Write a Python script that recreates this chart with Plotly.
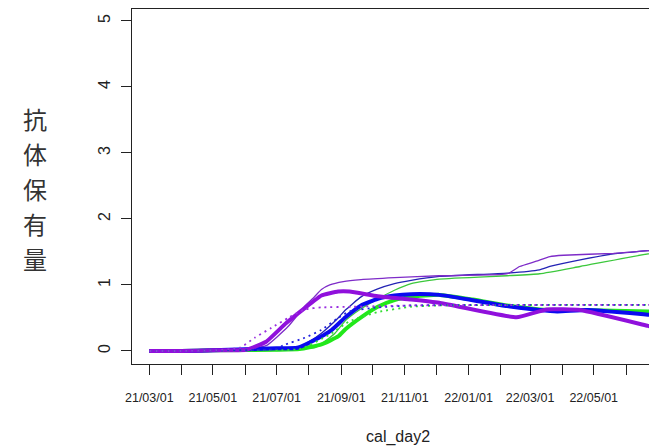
import plotly.graph_objects as go

# ---------------- data ----------------
thin_purple_x = ["2021-03-01", "2021-04-01", "2021-05-01", "2021-06-01", "2021-06-21", "2021-07-12",
                 "2021-07-28", "2021-08-05", "2021-08-13", "2021-08-21", "2021-09-03", "2021-09-20",
                 "2021-10-22", "2021-12-04", "2022-02-02", "2022-02-09", "2022-02-19", "2022-03-07",
                 "2022-03-20", "2022-04-02", "2022-05-20", "2022-06-22", "2022-06-30"]
thin_purple_y = [0, 0, 0.01, 0.03, 0.08, 0.37, 0.68, 0.80, 0.93, 1.00, 1.05, 1.08,
                 1.11, 1.14, 1.16, 1.18, 1.28, 1.36, 1.43, 1.45, 1.48, 1.52, 1.53]

thin_blue_x = ["2021-03-01", "2021-04-01", "2021-05-01", "2021-06-01", "2021-07-01", "2021-07-21",
               "2021-08-02", "2021-08-13", "2021-08-29", "2021-09-05", "2021-09-20", "2021-10-06",
               "2021-10-22", "2021-11-07", "2021-12-04", "2022-02-07", "2022-03-10", "2022-03-20",
               "2022-04-18", "2022-05-20", "2022-06-22", "2022-06-30"]
thin_blue_y = [0, 0, 0.01, 0.02, 0.03, 0.05, 0.15, 0.27, 0.50, 0.62, 0.82, 0.94,
               1.02, 1.07, 1.13, 1.18, 1.23, 1.28, 1.38, 1.47, 1.52, 1.53]

thin_green_x = ["2021-03-01", "2021-04-01", "2021-05-01", "2021-06-01", "2021-07-01", "2021-08-07",
                "2021-08-26", "2021-09-05", "2021-09-20", "2021-10-06", "2021-10-22", "2021-11-07",
                "2021-12-04", "2022-02-07", "2022-03-10", "2022-04-18", "2022-06-22", "2022-06-30"]
thin_green_y = [0, 0, 0.01, 0.02, 0.03, 0.05, 0.27, 0.46, 0.64, 0.79, 0.92, 1.02,
                1.09, 1.14, 1.17, 1.28, 1.47, 1.48]

thick_purple_x = ["2021-03-01", "2021-04-01", "2021-05-01", "2021-06-02", "2021-06-21", "2021-07-10",
                  "2021-07-28", "2021-08-13", "2021-08-29", "2021-09-09", "2021-10-06", "2021-11-07",
                  "2021-12-04", "2022-02-16", "2022-03-17", "2022-04-18", "2022-06-22", "2022-06-30"]
thick_purple_y = [0, 0, 0.01, 0.02, 0.14, 0.42, 0.65, 0.84, 0.90, 0.90, 0.83, 0.78,
                  0.73, 0.51, 0.63, 0.62, 0.38, 0.35]

thick_blue_x = ["2021-03-01", "2021-04-01", "2021-05-01", "2021-07-01", "2021-07-21", "2021-08-07",
                "2021-08-23", "2021-09-05", "2021-09-20", "2021-10-06", "2021-10-22", "2021-11-07",
                "2021-12-04", "2022-01-05", "2022-02-07", "2022-03-10", "2022-03-27", "2022-04-25",
                "2022-06-22", "2022-06-30"]
thick_blue_y = [0, 0, 0.01, 0.04, 0.05, 0.17, 0.32, 0.51, 0.69, 0.79, 0.84, 0.86,
                0.85, 0.77, 0.68, 0.62, 0.60, 0.62, 0.55, 0.54]

thick_green_x = ["2021-03-01", "2021-04-01", "2021-05-01", "2021-07-01", "2021-07-23", "2021-08-13",
                 "2021-08-29", "2021-09-05", "2021-09-20", "2021-10-06", "2021-10-22", "2021-11-07",
                 "2021-12-04", "2022-01-05", "2022-02-07", "2022-03-10", "2022-04-18", "2022-06-22",
                 "2022-06-30"]
thick_green_y = [0, 0, 0.01, 0.02, 0.03, 0.10, 0.22, 0.33, 0.51, 0.67, 0.77, 0.82,
                 0.85, 0.78, 0.69, 0.63, 0.62, 0.60, 0.60]

dot_purple_x = ["2021-03-01", "2021-04-01", "2021-05-01", "2021-05-27", "2021-06-10", "2021-06-26",
                "2021-07-12", "2021-07-28", "2021-08-13", "2021-09-12", "2021-11-07", "2022-06-30"]
dot_purple_y = [0, 0, 0.01, 0.05, 0.20, 0.35, 0.50, 0.63, 0.66, 0.67, 0.69, 0.70]

dot_blue_x = ["2021-03-01", "2021-04-01", "2021-05-01", "2021-07-01", "2021-07-08", "2021-07-28",
              "2021-08-13", "2021-08-29", "2021-09-09", "2021-10-06", "2021-11-07", "2022-06-30"]
dot_blue_y = [0, 0, 0.01, 0.03, 0.09, 0.20, 0.32, 0.50, 0.60, 0.66, 0.69, 0.70]

dot_green_x = ["2021-03-01", "2021-04-01", "2021-05-01", "2021-07-23", "2021-08-21", "2021-09-09",
               "2021-10-06", "2021-11-07", "2021-12-04", "2022-06-30"]
dot_green_y = [0, 0, 0.01, 0.03, 0.25, 0.45, 0.59, 0.67, 0.69, 0.70]

tick_vals = ["2021-03-01", "2021-04-01", "2021-05-01", "2021-06-01", "2021-07-01", "2021-08-01",
             "2021-09-01", "2021-10-01", "2021-11-01", "2021-12-01", "2022-01-01", "2022-02-01",
             "2022-03-01", "2022-04-01", "2022-05-01", "2022-06-01"]
tick_text = ["21/03/01", "", "21/05/01", "", "21/07/01", "", "21/09/01", "", "21/11/01", "",
             "22/01/01", "", "22/03/01", "", "22/05/01", ""]
y_ticks = [0, 1, 2, 3, 4, 5]

x_title = "cal_day2"
y_title = "抗体保有量"

# ---------------- figure ----------------
fig = go.Figure()

def add(x, y, color, width, dash="solid", smooth=0.45):
    fig.add_trace(go.Scatter(x=x, y=y, mode="lines",
                             line=dict(color=color, width=width, dash=dash, shape="spline", smoothing=smooth),
                             showlegend=False, hoverinfo="skip"))

add(thin_green_x, thin_green_y, "#3CC83C", 1.3)
add(thin_blue_x, thin_blue_y, "#2323B4", 1.3)
add(thin_purple_x, thin_purple_y, "#7E2CC8", 1.3)
add(thick_green_x, thick_green_y, "#22E81A", 4)
add(thick_blue_x, thick_blue_y, "#0A0AF0", 4)
add(thick_purple_x, thick_purple_y, "#9010DC", 4, smooth=0.35)
add(dot_green_x, dot_green_y, "#33DD33", 1.8, "2px,4px")
add(dot_blue_x, dot_blue_y, "#2020E0", 1.8, "2px,4px")
add(dot_purple_x, dot_purple_y, "#9A30E0", 1.8, "2px,4px")

axis_col = "#222222"
fig.update_layout(
    width=649, height=448,
    margin=dict(l=132, r=0, t=9, b=84),
    paper_bgcolor="white", plot_bgcolor="white",
    font=dict(family="Liberation Sans, Arial, sans-serif", color=axis_col),
    xaxis=dict(
        type="date", range=["2021-02-12 10:00", "2022-06-23"],
        tickvals=tick_vals, ticktext=tick_text,
        ticks="outside", ticklen=10, tickwidth=1.2, tickcolor=axis_col,
        showline=True, linecolor=axis_col, linewidth=1.4, mirror=True,
        showgrid=False, zeroline=False,
        tickfont=dict(size=12.5, color=axis_col), ticklabelstandoff=12,
    ),
    yaxis=dict(
        range=[-0.197, 5.18], tickvals=y_ticks,
        ticks="outside", ticklen=10, tickwidth=1.2, tickcolor=axis_col,
        showline=True, linecolor=axis_col, linewidth=1.4,
        showgrid=False, zeroline=False, tickangle=-90,
        tickfont=dict(size=16, color=axis_col), ticklabelstandoff=4,
    ),
)

# vertical (stacked) y title: line pitch from the outer font size, glyphs slightly smaller
y_title_html = "<br>".join('<span style="font-size:24px">%s</span>' % ch for ch in y_title)
fig.add_annotation(text=y_title_html, xref="paper", yref="paper",
                   x=(35 - 132) / 517, y=(364 - 188.5) / 355, xanchor="center", yanchor="middle",
                   showarrow=False, font=dict(family="Noto Sans CJK JP", size=27, color="#333333"))
fig.add_annotation(text=x_title, xref="paper", yref="paper",
                   x=(398 - 132) / 517, y=(364 - 437) / 355, xanchor="center", yanchor="middle",
                   showarrow=False, font=dict(size=16, color=axis_col))

fig.write_html("out.html")
